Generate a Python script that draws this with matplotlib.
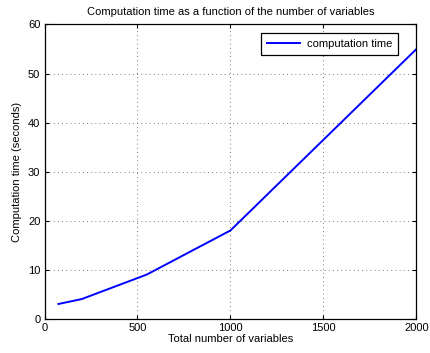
import matplotlib
matplotlib.use("Agg")
import matplotlib.pyplot as plt

# timing results
num_variables = [75, 200, 550, 1000, 2000]
comp_time = [3, 4, 9, 18, 55]

x_ticks = [0, 500, 1000, 1500, 2000]
y_ticks = [0, 10, 20, 30, 40, 50, 60]

plt.rcParams['font.family'] = ['Liberation Sans', 'DejaVu Sans']
plt.rcParams['font.size'] = 8

fig = plt.figure(figsize=(4.3, 3.53), dpi=100)
ax = fig.add_axes([0.1035, 0.0972, 0.865, 0.8334])

ax.plot(num_variables, comp_time, color='#0000ff', linewidth=1.4, label='computation time')

ax.set_xlim(0, 2000)
ax.set_ylim(0, 60)
ax.set_xticks(x_ticks)
ax.set_yticks(y_ticks)
ax.tick_params(direction='in', top=True, right=True, length=3, width=0.8, pad=3)
ax.grid(True, linestyle=(0, (1, 4)), color='#505050', linewidth=0.6)
for s in ax.spines.values():
    s.set_linewidth(0.9)

ax.set_title('Computation time as a function of the number of variables', fontsize=8, pad=7)
ax.set_xlabel('Total number of variables', labelpad=1)
ax.set_ylabel('Computation time (seconds)', labelpad=4)

leg = ax.legend(loc='upper right', fancybox=False, framealpha=1, edgecolor='black',
                borderpad=0.55, handlelength=3.0, handletextpad=0.6,
                bbox_to_anchor=(0.966, 0.99))
leg.get_frame().set_linewidth(0.9)

fig.savefig('out.png', dpi=100)
